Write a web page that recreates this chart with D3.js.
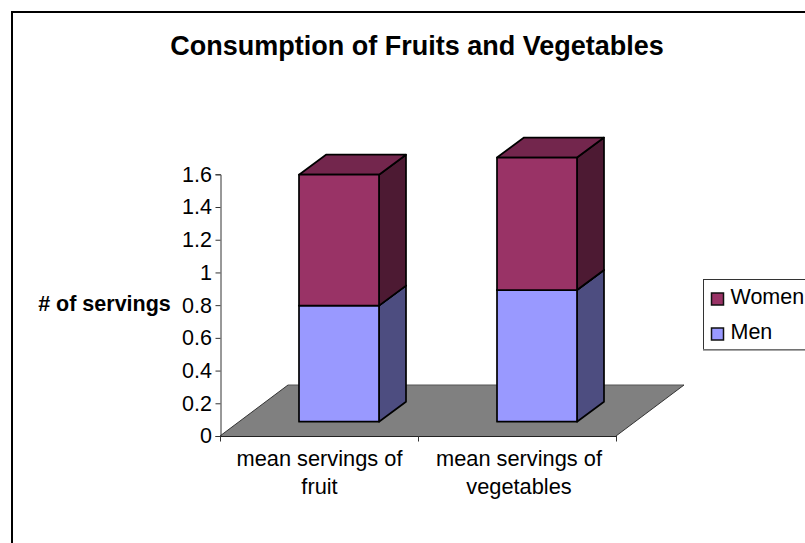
<!DOCTYPE html>
<html>
<head>
<meta charset="utf-8">
<script src="https://cdn.jsdelivr.net/npm/d3@7"></script>
<style>
  html, body { margin: 0; padding: 0; background: #fff; overflow: hidden; }
  text { font-family: "Liberation Sans", Arial, sans-serif; fill: #000; }
</style>
</head>
<body>
<svg id="chart" width="805" height="543"></svg>
<script>
const categories = [["mean servings of", "fruit"], ["mean servings of", "vegetables"]];
const seriesNames = ["Men", "Women"];
const menValues = [0.71, 0.805];
const womenValues = [0.80, 0.81];
const yTicks = [0, 0.2, 0.4, 0.6, 0.8, 1, 1.2, 1.4, 1.6];
const legendOrder = ["Women", "Men"];

const frontColors = { Men: "#9999ff", Women: "#993366" };
const sideColors = { Men: "#4d4d80", Women: "#4d1a33" };
const topColors = { Men: "#737399", Women: "#73264d" };

const labelSize = 21.5;
const svg = d3.select("#chart");

// Frame around the chart area
svg.append("path")
  .attr("d", "M12,543 V12 H805")
  .attr("fill", "none").attr("stroke", "#000").attr("stroke-width", 2);

svg.append("text")
  .attr("x", 417).attr("y", 55)
  .attr("text-anchor", "middle")
  .attr("font-size", 27).attr("font-weight", "bold")
  .text("Consumption of Fruits and Vegetables");

// Front plane of the 3-D plot
const x = d3.scaleBand().domain(d3.range(categories.length)).range([220, 616]);
const y = d3.scaleLinear().domain([0, 1.6]).range([436, 174.3]);

// Oblique projection of the floor's depth
const floorDepth = { dx: 68, dy: -51 };
const barDepth = { dx: 27, dy: -20 };
const barInset = { dx: 20, dy: -14.3 };
const barWidth = 80;

svg.append("polygon")
  .attr("points", [
    [x.range()[0], y(0)],
    [x.range()[1], y(0)],
    [x.range()[1] + floorDepth.dx, y(0) + floorDepth.dy],
    [x.range()[0] + floorDepth.dx, y(0) + floorDepth.dy]
  ].join(" "))
  .attr("fill", "#808080");

// Back edge of the floor is a thin darker line; front edge is the axis
svg.append("path")
  .attr("d", `M${x.range()[0] + floorDepth.dx},${y(0) + floorDepth.dy}H${x.range()[1] + floorDepth.dx}`)
  .attr("stroke", "#555").attr("fill", "none");
svg.append("path")
  .attr("d", `M${x.range()[0]},${y(0)}L${x.range()[0] + floorDepth.dx},${y(0) + floorDepth.dy}`)
  .attr("stroke", "#333").attr("fill", "none");
svg.append("path")
  .attr("d", `M${x.range()[1]},${y(0)}L${x.range()[1] + floorDepth.dx},${y(0) + floorDepth.dy}`)
  .attr("stroke", "#333").attr("fill", "none");

// Value axis
const yAxis = d3.axisLeft(y).tickValues(yTicks).tickSize(5).tickPadding(3.5)
  .tickFormat(d => String(d));
const yG = svg.append("g").attr("transform", "translate(220.5,0)").call(yAxis);
yG.selectAll("text").attr("font-size", labelSize)
  .style("font-family", '"Liberation Sans", Arial, sans-serif');
yG.selectAll("line,path").attr("stroke", "#333");

// Category axis: ticks fall on the band boundaries
const xEdge = [0, 1, 2].map(i => x.range()[0] + i * x.bandwidth());
svg.append("path")
  .attr("d", `M${x.range()[0]},${y(0) + 0.5}H${x.range()[1]}`)
  .attr("stroke", "#222").attr("fill", "none");
svg.selectAll(".cat-tick").data(xEdge).join("line")
  .attr("class", "cat-tick")
  .attr("x1", d => d + 0.5).attr("x2", d => d + 0.5)
  .attr("y1", y(0)).attr("y2", y(0) + 5.5)
  .attr("stroke", "#333");

// Category label centres sit slightly wider apart than the bands
const labelX = d3.scaleLinear().domain([0, 1]).range([319.5, 519]);
const catLabels = svg.selectAll(".cat").data(categories).join("text")
  .attr("class", "cat")
  .attr("text-anchor", "middle")
  .attr("font-size", 21.8);
catLabels.selectAll("tspan").data((d, i) => d.map(line => ({ line, i }))).join("tspan")
  .attr("x", d => labelX(d.i))
  .attr("y", (d, j) => 466 + j * 28)
  .text(d => d.line);

// Stacked 3-D columns
const table = categories.map((c, i) => ({ i, Men: menValues[i], Women: womenValues[i] }));
const stacked = d3.stack().keys(seriesNames)(table);
const baseY = y(0) + barInset.dy;
const valueHeight = v => y(0) - y(v);

stacked.forEach(layer => {
  const name = layer.key;
  layer.forEach((seg, i) => {
    const xL = x(i) + (x.bandwidth() - barWidth) / 2 + barInset.dx;
    const xR = xL + barWidth;
    const yT = baseY - valueHeight(seg[1]);
    const yB = baseY - valueHeight(seg[0]);
    const g = svg.append("g")
      .attr("stroke", "#000").attr("stroke-width", 1.7).attr("stroke-linejoin", "round");
    g.append("polygon")
      .attr("points", [[xR, yT], [xR + barDepth.dx, yT + barDepth.dy], [xR + barDepth.dx, yB + barDepth.dy], [xR, yB]].join(" "))
      .attr("fill", sideColors[name]);
    g.append("polygon")
      .attr("points", [[xL, yT], [xL + barDepth.dx, yT + barDepth.dy], [xR + barDepth.dx, yT + barDepth.dy], [xR, yT]].join(" "))
      .attr("fill", topColors[name]);
    g.append("rect")
      .attr("x", xL).attr("y", yT).attr("width", barWidth).attr("height", yB - yT)
      .attr("fill", frontColors[name]);
  });
});

// Axis title
svg.append("text")
  .attr("x", 104.5).attr("y", 311)
  .attr("text-anchor", "middle")
  .attr("font-size", labelSize).attr("font-weight", "bold")
  .text("# of servings");

// Legend, clipped by the right edge of the page
svg.append("rect")
  .attr("x", 703.5).attr("y", 279.5).attr("width", 120).attr("height", 70)
  .attr("fill", "#fff").attr("stroke", "#333");
svg.append("line")
  .attr("x1", 703).attr("x2", 805).attr("y1", 350).attr("y2", 350)
  .attr("stroke", "#888").attr("stroke-width", 1.5);
const legendRow = d3.scaleOrdinal().domain(legendOrder).range([299, 334]);
legendOrder.forEach(name => {
  svg.append("rect")
    .attr("x", 711.5).attr("y", legendRow(name) - 6).attr("width", 12).attr("height", 12)
    .attr("fill", frontColors[name]).attr("stroke", "#111").attr("stroke-width", 1.5);
  svg.append("text")
    .attr("x", 730.5).attr("y", legendRow(name) + 4.7)
    .attr("font-size", labelSize)
    .text(name);
});
</script>
</body>
</html>
